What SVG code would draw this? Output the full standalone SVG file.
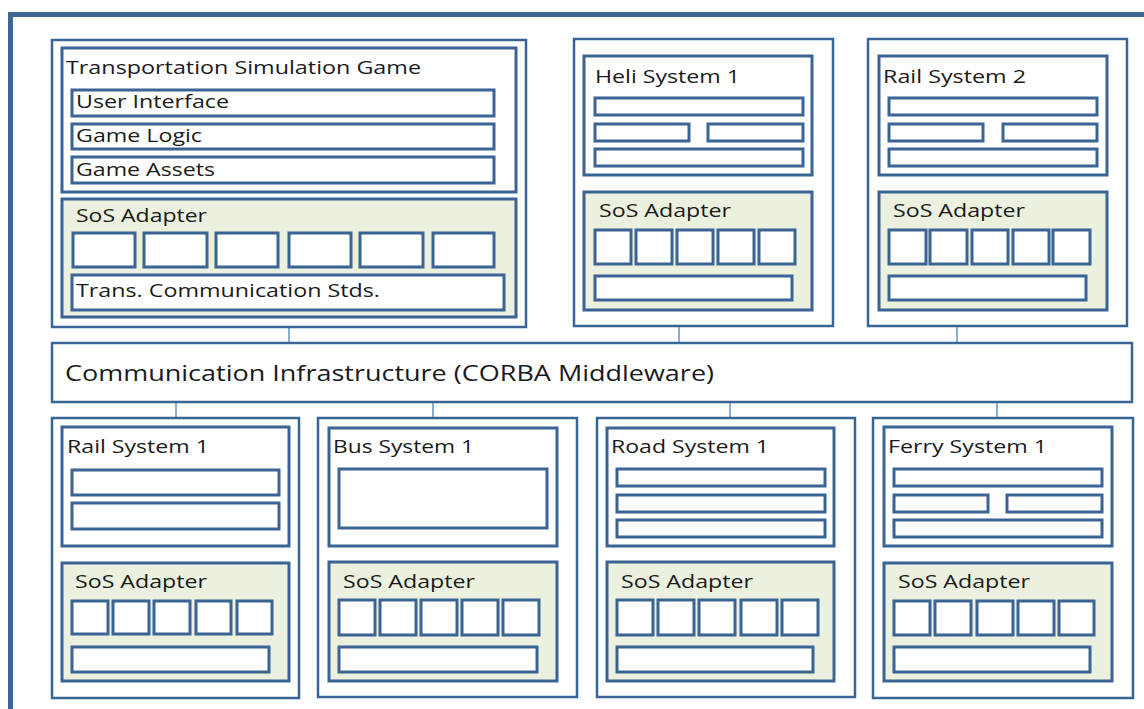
<svg xmlns="http://www.w3.org/2000/svg" width="1144" height="709" viewBox="0 0 1144 709">
<style>
.frame{fill:#fff;stroke:#3d6595;stroke-width:5}
.outer{fill:#fff;stroke:#3a6396;stroke-width:2.5}
.inner{fill:#fff;stroke:#3a6396;stroke-width:3}
.sos{fill:#ebf1de;stroke:#3a6396;stroke-width:3}
.bar{fill:#fff;stroke:#3a6396;stroke-width:3}
.conn{stroke:#6b9bd1;stroke-width:1.6;fill:none}
.t{font-family:"Open Sans","Noto Sans",sans-serif;font-size:18.5px;fill:#1a1a1a}
.tc{font-family:"Open Sans","Noto Sans",sans-serif;font-size:21px;fill:#1a1a1a}
</style>
<rect x="0" y="0" width="1144" height="709" fill="#fff"/>
<rect class="frame" x="10.5" y="14.5" width="1160" height="720"/>

<g id="connectors">
<line class="conn" x1="289" y1="327" x2="289" y2="343"/>
<line class="conn" x1="679" y1="326" x2="679" y2="343"/>
<line class="conn" x1="957" y1="326" x2="957" y2="343"/>
<line class="conn" x1="176" y1="402" x2="176" y2="418"/>
<line class="conn" x1="433" y1="402" x2="433" y2="418"/>
<line class="conn" x1="730" y1="402" x2="730" y2="418"/>
<line class="conn" x1="997" y1="402" x2="997" y2="418"/>
</g>

<g id="game">
<rect class="outer" x="52" y="40" width="474" height="287"/>
<rect class="inner" x="62" y="48" width="454" height="144"/>
<text class="t" x="66" y="74" textLength="355" lengthAdjust="spacingAndGlyphs">Transportation Simulation Game</text>
<rect class="bar" x="72" y="90" width="422" height="26"/>
<text class="t" x="76" y="108" textLength="153" lengthAdjust="spacingAndGlyphs">User Interface</text>
<rect class="bar" x="72" y="124" width="422" height="25"/>
<text class="t" x="76" y="142" textLength="126" lengthAdjust="spacingAndGlyphs">Game Logic</text>
<rect class="bar" x="72" y="157" width="422" height="26"/>
<text class="t" x="76" y="176" textLength="139" lengthAdjust="spacingAndGlyphs">Game Assets</text>
<rect class="sos" x="62" y="199" width="454" height="118"/>
<text class="t" x="76" y="222" textLength="131" lengthAdjust="spacingAndGlyphs">SoS Adapter</text>
<rect class="bar" x="73" y="233" width="62" height="34"/>
<rect class="bar" x="144" y="233" width="63" height="34"/>
<rect class="bar" x="216" y="233" width="62" height="34"/>
<rect class="bar" x="289" y="233" width="62" height="34"/>
<rect class="bar" x="360" y="233" width="63" height="34"/>
<rect class="bar" x="433" y="233" width="61" height="34"/>
<rect class="bar" x="72" y="275" width="432" height="35"/>
<text class="t" x="76" y="297" textLength="304" lengthAdjust="spacingAndGlyphs">Trans. Communication Stds.</text>
</g>

<g id="heli">
<rect class="outer" x="574" y="39" width="259" height="287"/>
<rect class="inner" x="584" y="56" width="228" height="119"/>
<text class="t" x="595" y="83" textLength="145" lengthAdjust="spacingAndGlyphs">Heli System 1</text>
<rect class="bar" x="595" y="98" width="208" height="17"/>
<rect class="bar" x="595" y="124" width="94" height="17"/>
<rect class="bar" x="708" y="124" width="95" height="17"/>
<rect class="bar" x="595" y="149" width="208" height="17"/>
<rect class="sos" x="584" y="192" width="228" height="118"/>
<text class="t" x="599" y="217" textLength="132" lengthAdjust="spacingAndGlyphs">SoS Adapter</text>
<rect class="bar" x="595" y="230" width="36" height="34"/>
<rect class="bar" x="636" y="230" width="36" height="34"/>
<rect class="bar" x="677" y="230" width="36" height="34"/>
<rect class="bar" x="718" y="230" width="36" height="34"/>
<rect class="bar" x="759" y="230" width="36" height="34"/>
<rect class="bar" x="595" y="276" width="197" height="24"/>
</g>

<g id="rail2">
<rect class="outer" x="868" y="39" width="259" height="287"/>
<rect class="inner" x="879" y="56" width="228" height="119"/>
<text class="t" x="883" y="83" textLength="143" lengthAdjust="spacingAndGlyphs">Rail System 2</text>
<rect class="bar" x="889" y="98" width="208" height="17"/>
<rect class="bar" x="889" y="124" width="94" height="17"/>
<rect class="bar" x="1003" y="124" width="94" height="17"/>
<rect class="bar" x="889" y="149" width="208" height="17"/>
<rect class="sos" x="879" y="192" width="228" height="118"/>
<text class="t" x="893" y="217" textLength="132" lengthAdjust="spacingAndGlyphs">SoS Adapter</text>
<rect class="bar" x="889" y="230" width="37" height="34"/>
<rect class="bar" x="930" y="230" width="37" height="34"/>
<rect class="bar" x="972" y="230" width="36" height="34"/>
<rect class="bar" x="1013" y="230" width="36" height="34"/>
<rect class="bar" x="1053" y="230" width="37" height="34"/>
<rect class="bar" x="889" y="276" width="197" height="24"/>
</g>

<g id="comm">
<rect class="outer" x="52" y="343" width="1080" height="59"/>
<text class="tc" x="65" y="381" textLength="649" lengthAdjust="spacingAndGlyphs">Communication Infrastructure (CORBA Middleware)</text>
</g>

<g id="rail1">
<rect class="outer" x="52" y="418" width="247" height="280"/>
<rect class="inner" x="62" y="427" width="227" height="119"/>
<text class="t" x="67" y="453" textLength="142" lengthAdjust="spacingAndGlyphs">Rail System 1</text>
<rect class="bar" x="72" y="470" width="207" height="25"/>
<rect class="bar" x="72" y="503" width="207" height="26"/>
<rect class="sos" x="62" y="563" width="227" height="118"/>
<text class="t" x="75" y="588" textLength="132" lengthAdjust="spacingAndGlyphs">SoS Adapter</text>
<rect class="bar" x="72" y="601" width="36" height="33"/>
<rect class="bar" x="113" y="601" width="36" height="33"/>
<rect class="bar" x="154" y="601" width="36" height="33"/>
<rect class="bar" x="196" y="601" width="35" height="33"/>
<rect class="bar" x="237" y="601" width="35" height="33"/>
<rect class="bar" x="72" y="647" width="197" height="25"/>
</g>

<g id="bus1">
<rect class="outer" x="318" y="418" width="259" height="279"/>
<rect class="inner" x="329" y="428" width="228" height="118"/>
<text class="t" x="333" y="453" textLength="141" lengthAdjust="spacingAndGlyphs">Bus System 1</text>
<rect class="bar" x="339" y="469" width="208" height="59"/>
<rect class="sos" x="329" y="562" width="228" height="119"/>
<text class="t" x="343" y="588" textLength="132" lengthAdjust="spacingAndGlyphs">SoS Adapter</text>
<rect class="bar" x="339" y="600" width="36" height="35"/>
<rect class="bar" x="380" y="600" width="36" height="35"/>
<rect class="bar" x="421" y="600" width="36" height="35"/>
<rect class="bar" x="462" y="600" width="36" height="35"/>
<rect class="bar" x="503" y="600" width="36" height="35"/>
<rect class="bar" x="339" y="647" width="198" height="25"/>
</g>

<g id="road1">
<rect class="outer" x="597" y="418" width="258" height="279"/>
<rect class="inner" x="607" y="428" width="227" height="118"/>
<text class="t" x="611" y="453" textLength="158" lengthAdjust="spacingAndGlyphs">Road System 1</text>
<rect class="bar" x="617" y="469" width="208" height="17"/>
<rect class="bar" x="617" y="495" width="208" height="17"/>
<rect class="bar" x="617" y="520" width="208" height="17"/>
<rect class="sos" x="607" y="562" width="227" height="119"/>
<text class="t" x="621" y="588" textLength="132" lengthAdjust="spacingAndGlyphs">SoS Adapter</text>
<rect class="bar" x="617" y="600" width="36" height="35"/>
<rect class="bar" x="658" y="600" width="36" height="35"/>
<rect class="bar" x="699" y="600" width="36" height="35"/>
<rect class="bar" x="741" y="600" width="36" height="35"/>
<rect class="bar" x="782" y="600" width="36" height="35"/>
<rect class="bar" x="617" y="647" width="196" height="25"/>
</g>

<g id="ferry1">
<rect class="outer" x="873" y="418" width="260" height="280"/>
<rect class="inner" x="884" y="427" width="228" height="119"/>
<text class="t" x="888" y="453" textLength="159" lengthAdjust="spacingAndGlyphs">Ferry System 1</text>
<rect class="bar" x="894" y="469" width="208" height="17"/>
<rect class="bar" x="894" y="495" width="94" height="17"/>
<rect class="bar" x="1007" y="495" width="95" height="17"/>
<rect class="bar" x="894" y="520" width="208" height="17"/>
<rect class="sos" x="884" y="563" width="228" height="118"/>
<text class="t" x="898" y="588" textLength="132" lengthAdjust="spacingAndGlyphs">SoS Adapter</text>
<rect class="bar" x="894" y="601" width="36" height="34"/>
<rect class="bar" x="935" y="601" width="36" height="34"/>
<rect class="bar" x="977" y="601" width="36" height="34"/>
<rect class="bar" x="1018" y="601" width="36" height="34"/>
<rect class="bar" x="1059" y="601" width="35" height="34"/>
<rect class="bar" x="894" y="647" width="196" height="25"/>
</g>
</svg>
